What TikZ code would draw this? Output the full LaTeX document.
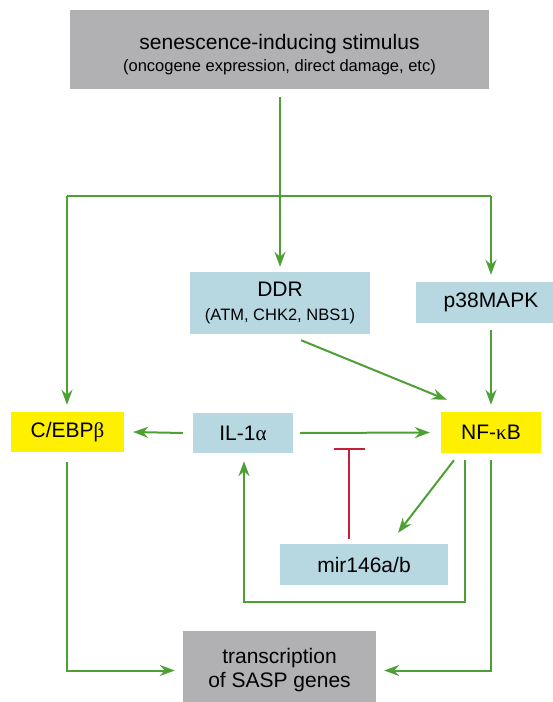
\documentclass[tikz,border=0pt]{standalone}
\usepackage{fontspec}
\setmainfont{Liberation Sans}
\newfontfamily\greekfont{Liberation Serif}
\usepackage{xcolor}
\usepackage{tikz}
\usetikzlibrary{arrows.meta,positioning}
\definecolor{boxgrey}{RGB}{177,177,179}
\definecolor{boxblue}{RGB}{183,215,225}
\definecolor{boxyellow}{RGB}{255,240,0}
\definecolor{pathgreen}{RGB}{76,160,52}
\definecolor{inhibred}{RGB}{196,30,58}

\begin{document}
\begin{tikzpicture}[x=1pt,y=-1pt,
		box/.style={inner sep=0pt,align=center,font=\fontsize{21}{24}\selectfont},
		greybox/.style={box,fill=boxgrey},
		bluebox/.style={box,fill=boxblue},
		yellowbox/.style={box,fill=boxyellow},
		link/.style={draw=pathgreen,line width=2pt},
		act/.style={link,-{Stealth[length=15pt,width=11pt,inset=5pt]}},
		inhib/.style={draw=inhibred,line width=1.6pt,-{Bar[width=31pt,line width=1.8pt]}}]
		\useasboundingbox (0,0) rectangle (553,702);
		\node[greybox,minimum width=419pt,minimum height=79pt] (stim) at (279.5,49.5) {\raisebox{-6pt}[\height][\depth]{\begin{tabular}{@{}c@{}}senescence-inducing stimulus\\[-2pt]{\fontsize{16.5}{20}\selectfont (oncogene expression, direct damage, etc)}\end{tabular}}};
		\node[bluebox,minimum width=180pt,minimum height=62pt] (ddr) at (280,303) {DDR\\{\fontsize{16.5}{20}\selectfont (ATM, CHK2, NBS1)}};
		\node[bluebox,minimum width=150pt,minimum height=41pt] (p38) at (491,302.5) {p38MAPK};
		\node[yellowbox,minimum width=113pt,minimum height=40pt] (cebp) at (67.5,432) {C/EBP{\greekfont β}};
		\node[bluebox,minimum width=100pt,minimum height=40pt] (il1) at (243,433) {IL-1{\greekfont α}};
		\node[yellowbox,minimum width=100pt,minimum height=41pt] (nfkb) at (491,432.5) {NF-{\greekfont κ}B};
		\node[bluebox,minimum width=168pt,minimum height=41pt] (mir) at (364,564.5) {mir146a/b};
		\node[greybox,minimum width=193pt,minimum height=79pt] (sasp) at (279.5,670.5) {transcription\\of SASP genes};
		\coordinate (stem) at (280,97);
		\coordinate (forkl) at (67,196);
		\coordinate (forkr) at (491,196);
		\coordinate (block) at (349,448);
		\draw[act,shorten >=5pt] (stem) -- (ddr.north);
		\draw[link] (forkl) -- (forkr);
		\draw[act,shorten >=7pt] (forkl) -- (forkl |- cebp.north);
		\draw[act,shorten >=7pt] (forkr) -- (forkr |- p38.north);
		\draw[act] ([xshift=21pt,yshift=-6pt]ddr.south) -- ([xshift=6pt,yshift=12pt]nfkb.north west);
		\draw[act] ([yshift=-7pt]p38.south) -- ([yshift=7pt]nfkb.north);
		\draw[act] ([xshift=-10pt]il1.west) -- ([xshift=9pt]cebp.east);
		\draw[act] ([xshift=7pt]il1.east) -- ([xshift=-11pt]nfkb.west);
		\draw[inhib] ([xshift=-15pt,yshift=5pt]mir.north) -- (block);
		\draw[act] ([xshift=-37pt,yshift=-7pt]nfkb.south) -- ([xshift=34pt,yshift=11pt]mir.north);
		\draw[act] ([xshift=-26pt,yshift=-7pt]nfkb.south) -- ++(0,142) -| ([xshift=1pt,yshift=-8pt]il1.south);
		\draw[act] ([yshift=-7pt]nfkb.south) |- ([xshift=8pt]sasp.east);
		\draw[act] ([xshift=-0.5pt,yshift=-10pt]cebp.south) |- ([xshift=-8pt]sasp.west);
	\end{tikzpicture}
\end{document}
